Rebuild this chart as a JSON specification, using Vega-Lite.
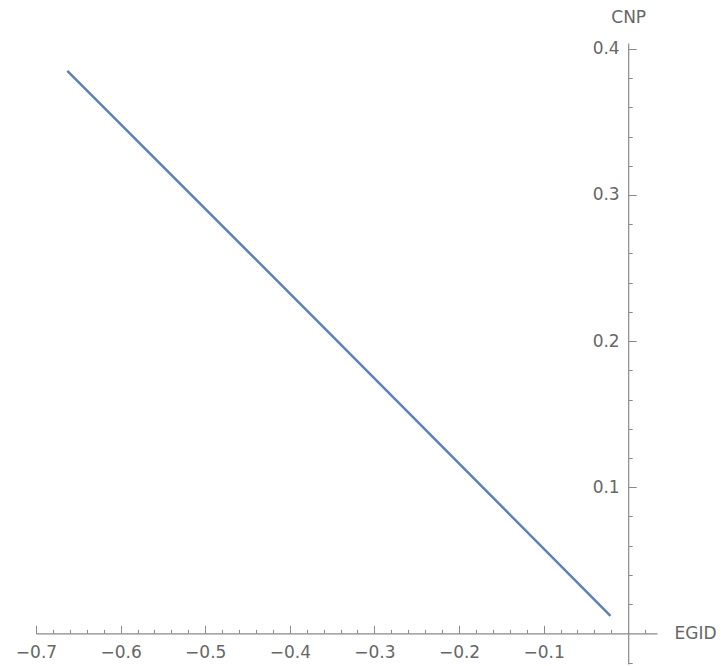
{
  "$schema": "https://vega.github.io/schema/vega-lite/v6.json",
  "autosize": "none",
  "width": 621,
  "height": 621,
  "padding": {"left": 36, "top": 43, "right": 70, "bottom": 2},
  "background": "white",
  "config": {
    "view": {"stroke": null},
    "axis": {"grid": false, "labelFont": "DejaVu Sans", "titleFont": "DejaVu Sans", "labelColor": "#666666", "titleColor": "#666666", "labelFontSize": 17, "titleFontSize": 17, "titleFontWeight": "normal", "domainColor": "#8a8a8a", "tickColor": "#8a8a8a", "domainWidth": 1.2, "tickWidth": 1}
  },
  "data": {"values": [
    {"EGID": -0.663, "CNP": 0.385},
    {"EGID": -0.342, "CNP": 0.199},
    {"EGID": -0.021, "CNP": 0.012}
  ]},
  "layer": [
    {
      "mark": {"type": "line", "color": "#5E81B5", "strokeWidth": 2.5},
      "encoding": {
        "x": {"field": "EGID", "type": "quantitative", "scale": {"domain": [-0.7, 0.034], "nice": false, "zero": false},
          "axis": {"orient": "bottom", "offset": -30.7, "values": [-0.7, -0.6, -0.5, -0.4, -0.3, -0.2, -0.1], "format": ".1f", "tickSize": -8, "labelPadding": 19, "labelFlush": false, "labelOverlap": false, "domain": true,
            "title": "EGID", "titleX": 638, "titleY": 0, "titleAlign": "left", "titleBaseline": "middle", "titleAngle": 0}},
        "y": {"field": "CNP", "type": "quantitative", "scale": {"domain": [-0.021, 0.404], "nice": false, "zero": false},
          "axis": {"orient": "left", "offset": -592.2, "values": [0.1, 0.2, 0.3, 0.4], "format": ".1f", "tickSize": -8, "labelPadding": 17, "labelFlush": false, "labelOverlap": false, "domain": true,
            "title": "CNP", "titleX": 0, "titleY": -26, "titleAlign": "center", "titleBaseline": "middle", "titleAngle": 0}}
      }
    },
    {
      "mark": {"type": "line", "strokeOpacity": 0},
      "encoding": {
        "x": {"field": "EGID", "type": "quantitative",
          "axis": {"orient": "bottom", "offset": -30.7, "values": [-0.7, -0.68, -0.66, -0.64, -0.62, -0.6, -0.58, -0.56, -0.54, -0.52, -0.5, -0.48, -0.46, -0.44, -0.42, -0.4, -0.38, -0.36, -0.34, -0.32, -0.3, -0.28, -0.26, -0.24, -0.22, -0.2, -0.18, -0.16, -0.14, -0.12, -0.1, -0.08, -0.06, -0.04, -0.02, 0.02], "tickSize": -4, "labels": false, "domain": false, "title": null}},
        "y": {"field": "CNP", "type": "quantitative",
          "axis": {"orient": "left", "offset": -592.2, "values": [-0.02, 0.02, 0.04, 0.06, 0.08, 0.1, 0.12, 0.14, 0.16, 0.18, 0.2, 0.22, 0.24, 0.26, 0.28, 0.3, 0.32, 0.34, 0.36, 0.38, 0.4], "tickSize": -4, "labels": false, "domain": false, "title": null}}
      }
    }
  ],
  "resolve": {"axis": {"x": "independent", "y": "independent"}}
}
